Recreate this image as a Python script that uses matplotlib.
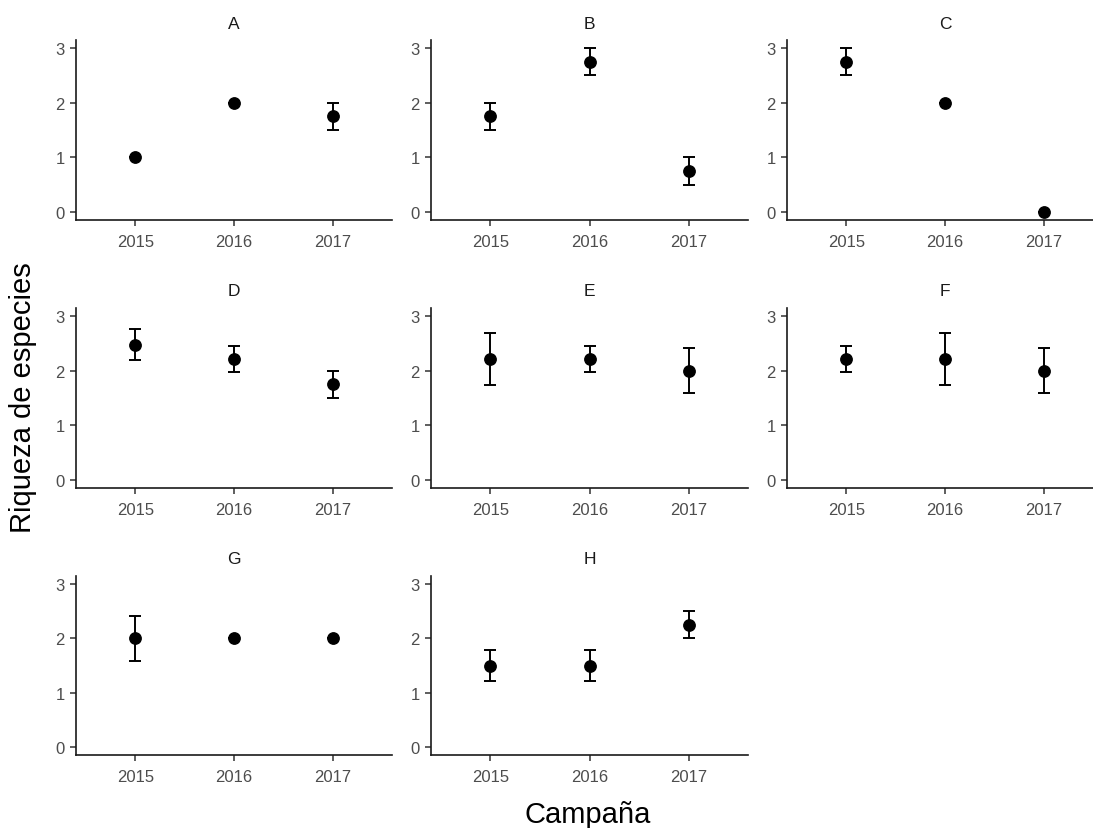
import numpy as np
import matplotlib
matplotlib.use("Agg")
from matplotlib import pyplot as plt

plt.rcParams['font.family'] = ['Liberation Sans', 'DejaVu Sans']

years = ["2015", "2016", "2017"]
panels = ["A", "B", "C", "D", "E", "F", "G", "H"]

# mean species richness per campaign, and its standard error
means = {
    "A": [1.00, 2.00, 1.75],
    "B": [1.75, 2.75, 0.75],
    "C": [2.75, 2.00, 0.00],
    "D": [2.48, 2.22, 1.75],
    "E": [2.22, 2.22, 2.00],
    "F": [2.22, 2.22, 2.00],
    "G": [2.00, 2.00, 2.00],
    "H": [1.50, 1.50, 2.25],
}
errors = {
    "A": [0.00, 0.00, 0.25],
    "B": [0.25, 0.25, 0.25],
    "C": [0.25, 0.00, 0.00],
    "D": [0.29, 0.24, 0.25],
    "E": [0.48, 0.24, 0.41],
    "F": [0.24, 0.48, 0.41],
    "G": [0.41, 0.00, 0.00],
    "H": [0.28, 0.28, 0.25],
}

W, H = 1093, 829
fig = plt.figure(figsize=(W / 100, H / 100), dpi=100)

cols = [(76, 392), (431, 748), (787, 1103)]
rows = [(41, 221), (309, 489), (577, 756)]

x = np.arange(1, len(years) + 1)
for i, name in enumerate(panels):
    c0, c1 = cols[i % 3]
    r0, r1 = rows[i // 3]
    ax = fig.add_axes([c0 / W, 1 - r1 / H, (c1 - c0) / W, (r1 - r0) / H])
    m = np.array(means[name])
    e = np.array(errors[name])
    ax.errorbar(x, m, yerr=e, fmt="none", ecolor="black", elinewidth=1.4,
                capsize=4.3, capthick=1.4)
    ax.plot(x, m, "o", color="black", markersize=8.2)
    ax.set_xlim(0.4, 3.6)
    ax.set_ylim(-0.15, 3.15)
    ax.set_xticks(x)
    ax.set_xticklabels(years)
    ax.set_yticks([0, 1, 2, 3])
    for side in ["top", "right"]:
        ax.spines[side].set_visible(False)
    for side in ["left", "bottom"]:
        ax.spines[side].set_linewidth(1.2)
        ax.spines[side].set_color("#1a1a1a")
    ax.tick_params(length=4, width=1.1, color="#333333", labelsize=12,
                   labelcolor="#4d4d4d", pad=4)
    ax.tick_params(axis="x", pad=6)
    ax.set_title(name, fontsize=12.5, color="#1a1a1a", pad=9)

fig.text(23 / W, 1 - 398 / H, "Riqueza de especies", rotation=90,
         ha="center", va="center", fontsize=21)
fig.text(588 / W, 1 - 815 / H, "Campaña", ha="center", va="center",
         fontsize=21)

fig.savefig("out.png", dpi=100)
